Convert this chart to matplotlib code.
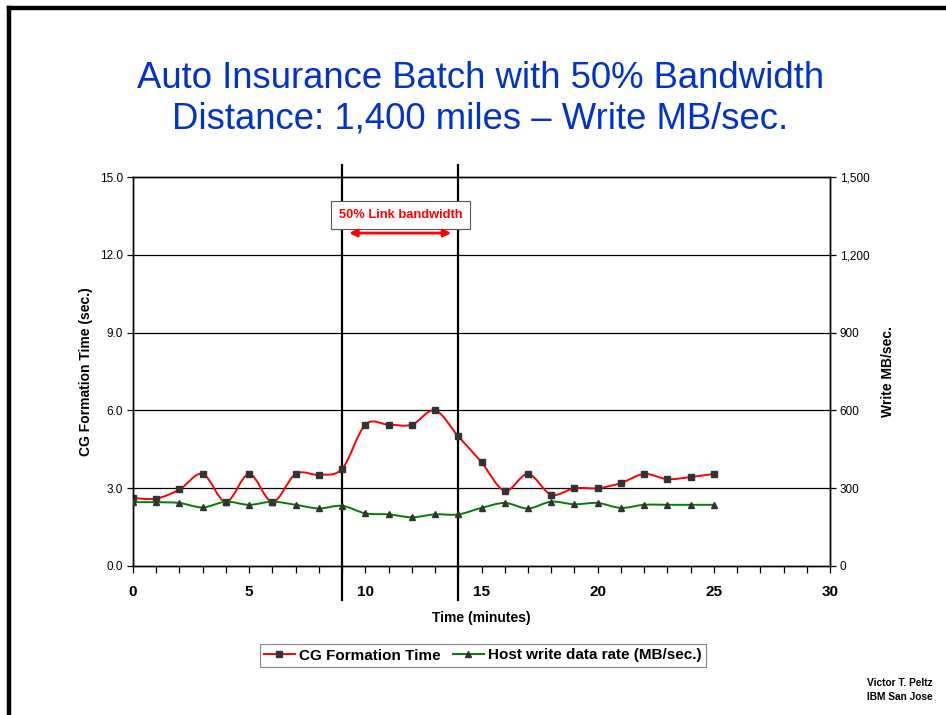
#!/usr/bin/env python3
"""Auto insurance batch run: CG formation time and host write rate over time."""

import matplotlib
matplotlib.use("Agg")
import matplotlib.pyplot as plt
from matplotlib.path import Path
from matplotlib.patches import PathPatch
from matplotlib.lines import Line2D
from matplotlib.ticker import MultipleLocator, FuncFormatter

plt.rcParams["font.family"] = ["Liberation Sans", "DejaVu Sans"]

minutes = list(range(26))
cg_time = [2.62, 2.6, 2.95, 3.55, 2.47, 3.55, 2.47, 3.55, 3.52, 3.75,
           5.45, 5.45, 5.45, 6.0, 5.0, 4.0, 2.9, 3.55, 2.75, 3.0,
           3.0, 3.2, 3.55, 3.35, 3.43, 3.55]
write_rate = [246, 246, 243, 226, 248, 236, 248, 236, 222, 232,
              203, 199, 188, 199, 199, 224, 243, 222, 248, 238,
              243, 224, 236, 236, 236, 236]
link_window = [9, 14]

RED = "#FF0000"
GREEN = "#008000"
MARK = "#333333"
TITLE_BLUE = "#0033CC"


def smooth_path(xs, ys):
    """Excel-style smoothed line: cubic Bezier segments through every point."""
    pts = list(zip(xs, ys))
    verts = [pts[0]]
    codes = [Path.MOVETO]
    n = len(pts)
    for i in range(n - 1):
        p0 = pts[i - 1] if i > 0 else pts[i]
        p1 = pts[i]
        p2 = pts[i + 1]
        p3 = pts[i + 2] if i + 2 < n else pts[i + 1]
        c1 = (p1[0] + (p2[0] - p0[0]) / 6, p1[1] + (p2[1] - p0[1]) / 6)
        c2 = (p2[0] - (p3[0] - p1[0]) / 6, p2[1] - (p3[1] - p1[1]) / 6)
        verts += [c1, c2, p2]
        codes += [Path.CURVE4] * 3
    return Path(verts, codes)


fig = plt.figure(figsize=(9.46, 7.15), dpi=100)
ax = fig.add_axes([0.1406, 0.2084, 0.7368, 0.544])
ax2 = ax.twinx()

ax.set_xlim(0, 30)
ax.set_ylim(0, 15)
ax2.set_ylim(0, 1500)

# horizontal gridlines
for v in [3, 6, 9, 12]:
    ax.axhline(v, color="black", lw=0.9, zorder=1)

# link-bandwidth window markers, running past the plot frame
for xv in link_window:
    ax.axvline(xv, ymin=-0.087, ymax=1.03, color="black", lw=1.6,
               clip_on=False, zorder=2)

ax.add_patch(PathPatch(smooth_path(minutes, cg_time), fill=False,
                       edgecolor=RED, lw=1.4, zorder=3))
ax.plot(minutes, cg_time, ls="none", marker="s", ms=4.5, color=MARK, zorder=4)

ax2.add_patch(PathPatch(smooth_path(minutes, write_rate), fill=False,
                        edgecolor=GREEN, lw=1.4, zorder=3))
ax2.plot(minutes, write_rate, ls="none", marker="^", ms=5, color=MARK, zorder=4)

# axes styling
for a in (ax, ax2):
    for s in a.spines.values():
        s.set_linewidth(1.0)
        s.set_color("black")

ax.xaxis.set_major_locator(MultipleLocator(5))
ax.xaxis.set_minor_locator(MultipleLocator(1))
ax.tick_params(axis="x", which="both", direction="out", length=5, width=0.9,
               labelsize=11, pad=9)
for lbl in ax.get_xticklabels():
    lbl.set_fontweight("bold")

ax.yaxis.set_major_locator(MultipleLocator(3))
ax.yaxis.set_major_formatter(FuncFormatter(lambda v, p: f"{v:.1f}"))
ax.tick_params(axis="y", direction="out", length=4, width=0.9, labelsize=8.5, pad=3)

ax2.yaxis.set_major_locator(MultipleLocator(300))
ax2.yaxis.set_major_formatter(FuncFormatter(lambda v, p: f"{v:,.0f}"))
ax2.tick_params(axis="y", direction="out", length=4, width=0.9, labelsize=8.5, pad=3)

ax.set_xlabel("Time (minutes)", fontsize=10, fontweight="bold", labelpad=8)
ax.set_ylabel("CG Formation Time (sec.)", fontsize=10, fontweight="bold", labelpad=5)
ax2.set_ylabel("Write MB/sec.", fontsize=10, fontweight="bold", labelpad=8)

# annotation box and arrow
ax.text(11.53, 13.54, "50% Link bandwidth", color=RED, fontsize=9.3,
        fontweight="bold", ha="center", va="center", zorder=6,
        bbox=dict(boxstyle="square,pad=0.6", fc="white", ec="#555555", lw=0.8))
ax.annotate("", xy=(9.3, 12.84), xytext=(13.7, 12.84),
            arrowprops=dict(arrowstyle="<|-|>", color=RED, lw=2,
                            mutation_scale=11, shrinkA=0, shrinkB=0), zorder=6)

# title
fig.text(0.508, 1 - 99 / 715,
         "Auto Insurance Batch with 50% Bandwidth\nDistance: 1,400 miles \u2013 Write MB/sec.",
         color=TITLE_BLUE, fontsize=26.3, ha="center", va="center", linespacing=1.2)

# legend
handles = [
    Line2D([], [], color=RED, lw=1.4, marker="s", ms=4.5, mfc=MARK, mec=MARK),
    Line2D([], [], color=GREEN, lw=1.4, marker="^", ms=5, mfc=MARK, mec=MARK),
]
leg = fig.legend(handles, ["CG Formation Time", "Host write data rate (MB/sec.)"],
                 loc="center", bbox_to_anchor=(483 / 946, 1 - 655.5 / 715), ncol=2,
                 frameon=True, fancybox=False, handlelength=2.0, handletextpad=0.3,
                 columnspacing=0.8, borderpad=0.3,
                 prop={"weight": "bold", "size": 11})
leg.get_frame().set_edgecolor("#666666")
leg.get_frame().set_linewidth(0.8)

# footer
fig.text(933 / 946, 1 - 690 / 715, "Victor T. Peltz\nIBM San Jose", fontsize=7.3,
         fontweight="bold", ha="right", va="center", linespacing=1.4)

# slide border (top and left edges)
fig.add_artist(Line2D([9 / 946, 9 / 946], [0, 1 - 8 / 715], color="black", lw=3.2,
                      solid_capstyle="projecting"))
fig.add_artist(Line2D([9 / 946, 1], [1 - 8 / 715, 1 - 8 / 715], color="black", lw=3.2,
                      solid_capstyle="projecting"))

fig.savefig("out.png", dpi=100)
